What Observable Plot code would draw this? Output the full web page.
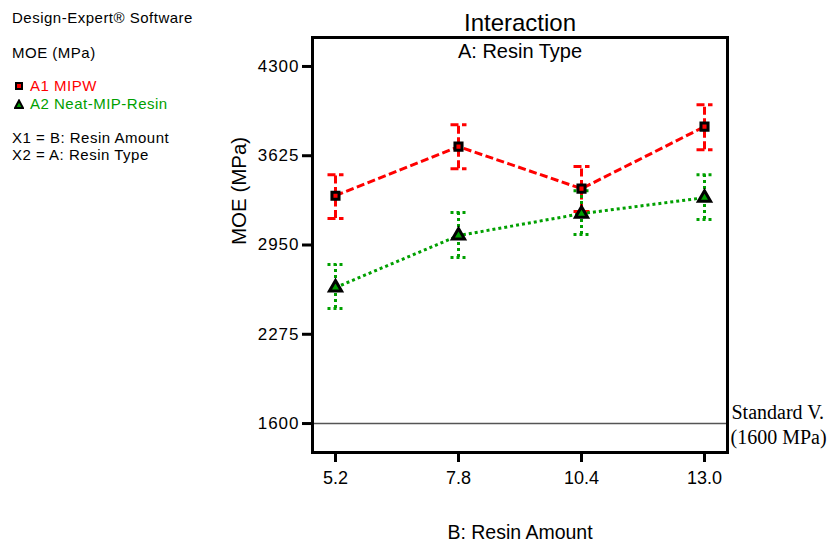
<!DOCTYPE html>
<html>
<head>
<meta charset="utf-8">
<script src="https://cdn.jsdelivr.net/npm/d3@7"></script>
<script src="https://cdn.jsdelivr.net/npm/@observablehq/plot@0.6"></script>
<style>
  html, body { margin: 0; padding: 0; background: #fff; }
  #wrap { position: relative; width: 835px; height: 544px; font-family: "Liberation Sans", Arial, sans-serif; }
  #panel { position: absolute; left: 0; top: 0; font-size: 15px; letter-spacing: 0.5px; color: #000; }
  #panel .ln { position: absolute; white-space: nowrap; line-height: 16px; }
  #chart { position: absolute; left: 0; top: 0; }
</style>
</head>
<body>
<div id="wrap">
  <div id="chart"></div>
  <div id="panel">
    <div class="ln" style="left:12px; top:10px;">Design-Expert® Software</div>
    <div class="ln" style="left:12px; top:45px;">MOE (MPa)</div>
    <div class="ln" style="left:14px; top:78px;"><svg width="10" height="10" style="vertical-align:0px"><rect x="2" y="2" width="6" height="6" fill="#ff0000" stroke="#000" stroke-width="2"/></svg><span style="color:#ff0000; margin-left:6px;">A1 MIPW</span></div>
    <div class="ln" style="left:14px; top:96px;"><svg width="10" height="10" style="vertical-align:0px"><path d="M5,1.5 L9,9 L1,9 Z" fill="#00a000" stroke="#000" stroke-width="2"/></svg><span style="color:#00a000; margin-left:6px;">A2 Neat-MIP-Resin</span></div>
    <div class="ln" style="left:12px; top:130px;">X1 = B: Resin Amount</div>
    <div class="ln" style="left:12px; top:147px;">X2 = A: Resin Type</div>
  </div>
</div>
<script>
// ---- data ----
const amounts = [5.2, 7.8, 10.4, 13.0];
const a1Mean = [3323, 3694, 3376, 3845];
const a1Low  = [3150, 3527, 3203, 3671];
const a1High = [3482, 3860, 3543, 4011];
const a2Mean = [2628, 3021, 3187, 3308];
const a2Low  = [2469, 2855, 3029, 3142];
const a2High = [2802, 3195, 3361, 3482];
const yTicks = [1600, 2275, 2950, 3625, 4300];
const standardValue = 1600;

const RED = "#ff0000";
const GREEN = "#00a000";

const a1 = amounts.map((x, i) => ({x, y: a1Mean[i], lo: a1Low[i], hi: a1High[i]}));
const a2 = amounts.map((x, i) => ({x, y: a2Mean[i], lo: a2Low[i], hi: a2High[i]}));

// horizontal cap symbol for error bars
const capSymbol = {
  draw(ctx, size) {
    const w = Math.sqrt(size / Math.PI);
    ctx.moveTo(-w, 0);
    ctx.lineTo(w, 0);
  }
};

function errorMarks(data, color, dash) {
  const common = {stroke: color, strokeWidth: 3, strokeDasharray: dash, strokeLinecap: "butt"};
  return [
    Plot.ruleX(data, {x: "x", y1: "lo", y2: "hi", ...common}),
    Plot.dot(data, {x: "x", y: "hi", symbol: capSymbol, r: 8, fill: "none", ...common}),
    Plot.dot(data, {x: "x", y: "lo", symbol: capSymbol, r: 8, fill: "none", ...common})
  ];
}

const font = "Liberation Sans, Arial, sans-serif";
const serif = "Liberation Serif, Times New Roman, serif";

const chart = Plot.plot({
  width: 835,
  height: 544,
  marginLeft: 312,
  marginRight: 108,
  marginTop: 37,
  marginBottom: 92,
  style: {fontFamily: font, background: "transparent"},
  x: {domain: [4.714, 13.486]},
  y: {domain: [1381, 4519]},
  marks: [
    Plot.ruleY([standardValue], {stroke: "#555", strokeWidth: 1.5}),
    ...errorMarks(a1, RED, "8,3.5"),
    ...errorMarks(a2, GREEN, "3,3"),
    Plot.line(a1, {x: "x", y: "y", stroke: RED, strokeWidth: 3, strokeDasharray: "8,3.5", strokeLinecap: "butt", strokeLinejoin: "miter"}),
    Plot.line(a2, {x: "x", y: "y", stroke: GREEN, strokeWidth: 3, strokeDasharray: "3,3", strokeLinecap: "butt", strokeLinejoin: "miter"}),
    Plot.dot(a1, {x: "x", y: "y", symbol: "square", r: 4, fill: RED, stroke: "#000", strokeWidth: 3}),
    Plot.dot(a2, {x: "x", y: "y", symbol: "triangle", r: 4.5, fill: GREEN, stroke: "#000", strokeWidth: 3}),
    Plot.frame({stroke: "#000", strokeWidth: 3}),
    Plot.axisY({ticks: yTicks, tickSize: 10, tickPadding: 3, fontSize: 17, strokeWidth: 3, label: null, tickFormat: d => String(d)}),
    Plot.axisX({ticks: amounts, tickSize: 10, tickPadding: 9, fontSize: 18, strokeWidth: 3, label: null, tickFormat: d3.format(".1f")}),
    Plot.text(["Interaction"], {frameAnchor: "top", dy: -14, fontSize: 24, lineAnchor: "middle"}),
    Plot.text(["A: Resin Type"], {frameAnchor: "top", dy: 14, fontSize: 20, lineAnchor: "middle"}),
    Plot.text(["MOE (MPa)"], {frameAnchor: "left", dx: -73, rotate: -90, fontSize: 20.5, lineAnchor: "middle"}),
    Plot.text(["B: Resin Amount"], {frameAnchor: "bottom", dy: 80, fontSize: 19.5, lineAnchor: "middle"}),
    Plot.text([standardValue], {y: d => d, text: () => "Standard V.", frameAnchor: "right", textAnchor: "start", dx: 4, dy: -11, fontSize: 20, fontFamily: serif, lineAnchor: "middle"}),
    Plot.text([standardValue], {y: d => d, text: () => "(1600 MPa)", frameAnchor: "right", textAnchor: "start", dx: 3, dy: 14.5, fontSize: 20, fontFamily: serif, lineAnchor: "middle"})
  ]
});
d3.select(chart).selectAll('g[aria-label="y-axis tick label"]').attr("letter-spacing", "1px");
document.getElementById("chart").appendChild(chart);
</script>
</body>
</html>
